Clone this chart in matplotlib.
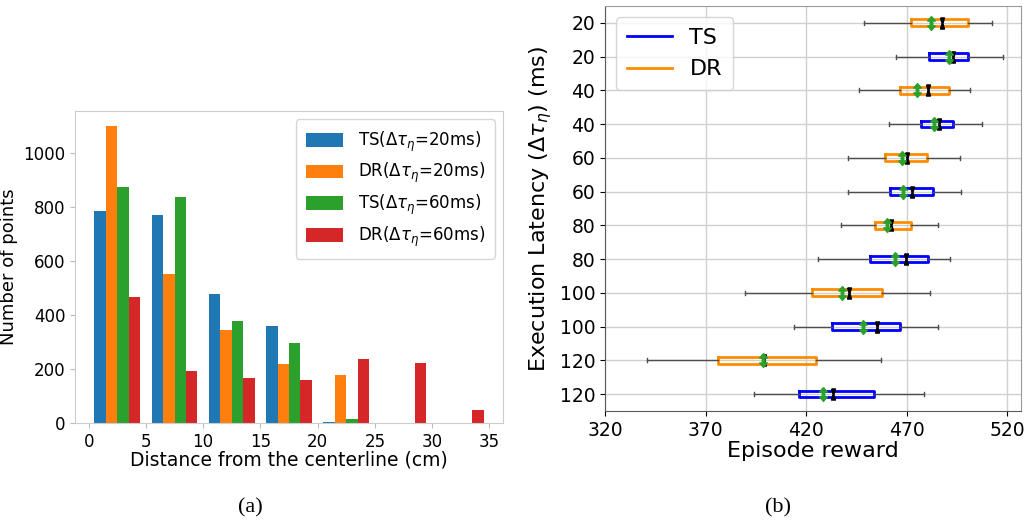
import matplotlib.pyplot as plt
from matplotlib.lines import Line2D

# (a) points per 5 cm distance bin
bin_edges = [0, 5, 10, 15, 20, 25, 30, 35]
bin_centers = [2.5, 7.5, 12.5, 17.5, 22.5, 27.5, 32.5]
ts20_counts = [786, 770, 479, 359, 4, 0, 0]
dr20_counts = [1102, 553, 346, 219, 178, 0, 0]
ts60_counts = [874, 837, 377, 295, 15, 0, 0]
dr60_counts = [467, 191, 167, 160, 237, 222, 47]
hist_labels = [r'TS($\Delta\tau_\eta$=20ms)', r'DR($\Delta\tau_\eta$=20ms)',
               r'TS($\Delta\tau_\eta$=60ms)', r'DR($\Delta\tau_\eta$=60ms)']

# (b) episode reward box stats, top row first
latency = ['20', '20', '40', '40', '60', '60', '80', '80', '100', '100', '120', '120']
method = ['DR', 'TS', 'DR', 'TS', 'DR', 'TS', 'DR', 'TS', 'DR', 'TS', 'DR', 'TS']
whislo = [448.6, 464.9, 446.3, 461.1, 440.8, 440.8, 437.2, 426.2, 389.4, 414.1, 340.9, 394.2]
q1 = [472.2, 481.2, 467.0, 477.2, 459.2, 461.6, 454.1, 451.9, 422.9, 432.7, 376.3, 416.4]
q3 = [500.4, 500.4, 491.1, 493.3, 480.2, 483.0, 472.2, 480.5, 457.6, 466.7, 425.2, 453.6]
whishi = [512.5, 518.0, 501.4, 507.4, 496.4, 497.2, 485.5, 491.4, 481.5, 485.5, 457.3, 478.5]
means = [482.3, 491.0, 475.0, 483.6, 468.0, 468.4, 460.4, 464.1, 437.7, 448.3, 398.7, 428.4]
medians = [487.9, 493.1, 480.7, 486.3, 470.2, 472.9, 462.4, 469.7, 441.3, 455.3, 399.0, 433.2]

method_colors = {'TS': 'blue', 'DR': 'darkorange'}

# marker shapes: double arrow for the mean, hourglass for the median
updown = [(0, 1), (0.55, 0.35), (0.18, 0.35), (0.18, -0.35), (0.55, -0.35), (0, -1),
          (-0.55, -0.35), (-0.18, -0.35), (-0.18, 0.35), (-0.55, 0.35), (0, 1)]
hourglass = [(-0.35, 1), (0.35, 1), (0.08, 0), (0.35, -1), (-0.35, -1), (-0.08, 0), (-0.35, 1)]

fig = plt.figure(figsize=(10.26, 5.29), dpi=100)

# ---- histogram ----
ax1 = fig.add_axes([0.0731, 0.2004, 0.4172, 0.5898])
all_counts = [ts20_counts, dr20_counts, ts60_counts, dr60_counts]
ax1.hist([bin_centers] * 4, bins=bin_edges, weights=all_counts,
         color=['C0', 'C1', 'C2', 'C3'], label=hist_labels)
ax1.set_xticks(range(0, 36, 5))
ax1.set_yticks(range(0, 1001, 200))
ax1.tick_params(labelsize=12, color='#bbbbbb')
for sp in ax1.spines.values():
    sp.set_color('#cccccc')
ax1.set_xlabel('Distance from the centerline (cm)', fontsize=13.5, labelpad=0)
ax1.set_ylabel('Number of points', fontsize=13, labelpad=4)
ax1.legend(loc='upper right', fontsize=12, borderpad=0.6, labelspacing=0.45,
           handlelength=2.2, handleheight=0.9, handletextpad=0.9)

# ---- box plot ----
ax2 = fig.add_axes([0.5897, 0.2231, 0.4055, 0.7656])
stats = []
for i in range(len(latency)):
    stats.append(dict(med=medians[i], q1=q1[i], q3=q3[i], whislo=whislo[i],
                      whishi=whishi[i], mean=means[i], fliers=[]))
positions = list(range(1, len(latency) + 1))
bp = ax2.bxp(stats, positions=positions, orientation='horizontal', widths=0.2,
             showmeans=True, showfliers=False, capwidths=0.12,
             boxprops=dict(linewidth=2),
             whiskerprops=dict(color='0.3', linewidth=1),
             capprops=dict(color='0.3', linewidth=1),
             medianprops=dict(color='black', linewidth=1, marker=hourglass,
                              markersize=8),
             meanprops=dict(marker=updown, markerfacecolor='C2',
                            markeredgecolor='C2', markersize=10))
for box, m in zip(bp['boxes'], method):
    box.set_color(method_colors[m])
# median drawn as a single centred marker
for med, pos in zip(bp['medians'], positions):
    xs = med.get_xdata()
    med.set_data([xs[0]], [pos])

ax2.set_yticks(positions, latency)
ax2.set_ylim(12.5, 0.5)
ax2.set_xlim(320, 527)
ax2.set_xticks([320, 370, 420, 470, 520])
ax2.grid(True, color='#d0d0d0', linewidth=1)
ax2.set_axisbelow(True)
ax2.tick_params(labelsize=13.5)
ax2.spines['left'].set_color('0.35')
ax2.spines['bottom'].set_color('0.35')
ax2.spines['top'].set_color('0.6')
ax2.spines['right'].set_color('0.6')
ax2.set_xlabel('Episode reward', fontsize=16, labelpad=1)
ax2.set_ylabel(r'Execution Latency ($\Delta\tau_\eta$) (ms)', fontsize=16)
handles = [Line2D([], [], color=method_colors['TS'], linewidth=2),
           Line2D([], [], color=method_colors['DR'], linewidth=2)]
ax2.legend(handles, ['TS', 'DR'], loc='upper left', fontsize=16,
           handlelength=2.0, borderpad=0.5)

fig.text(0.2437, 0.032, '(a)', family='Liberation Serif', fontsize=16, ha='center')
fig.text(0.7583, 0.032, '(b)', family='Liberation Serif', fontsize=16, ha='center')

fig.savefig('out.png', dpi=100)
